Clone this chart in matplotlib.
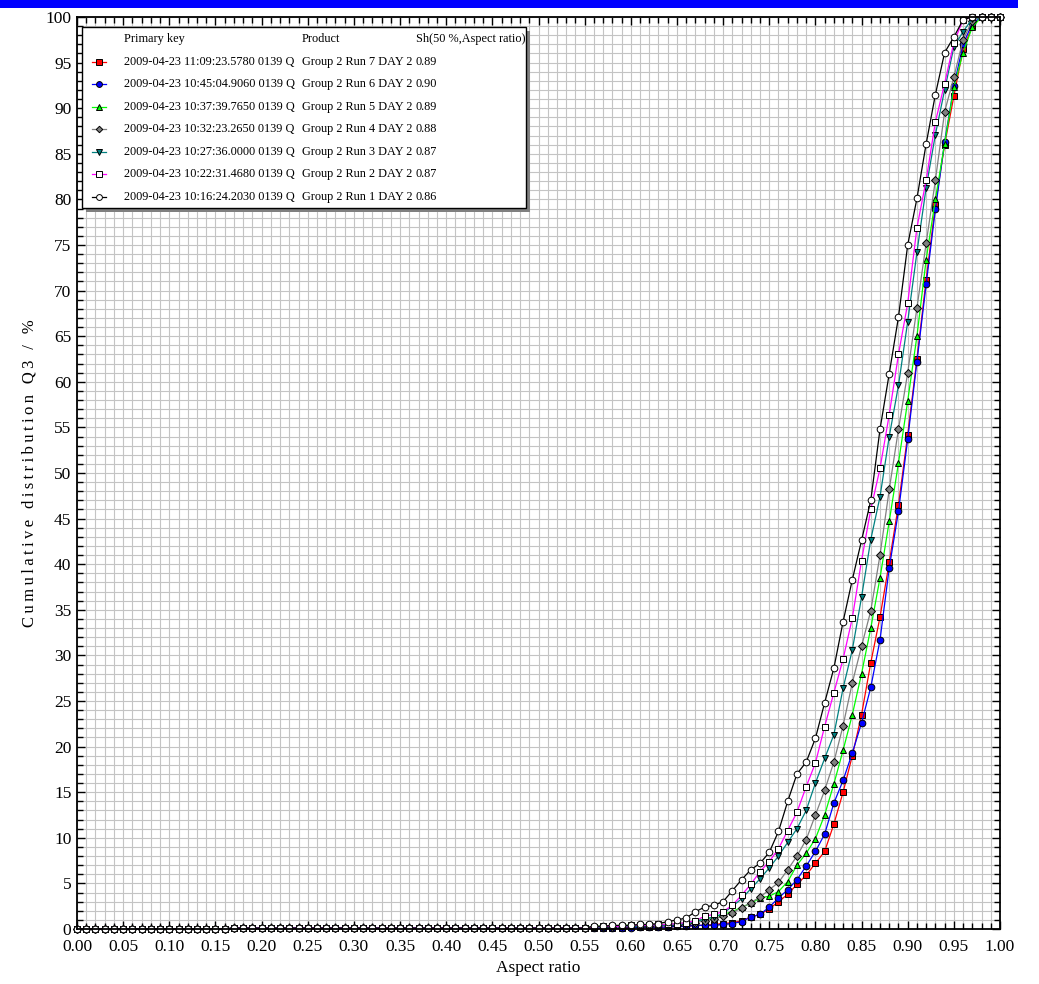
#--------------------------------------------
# Q3 cumulative distribution of aspect ratio, 7 runs
#--------------------------------------------
import numpy as np
import matplotlib
matplotlib.use('Agg')
import matplotlib.pyplot as plt
from matplotlib.patches import Rectangle
from matplotlib.lines import Line2D
from matplotlib.ticker import MultipleLocator, FormatStrFormatter

plt.rcParams['font.family'] = ['Liberation Serif', 'DejaVu Serif']

# ---- data ----------------------------------------------------------
aspect_ratio = np.round(np.arange(101) * 0.01, 2)   # 0.00 ... 1.00

low_part = [0.0] * 17 + [0.1] * 39                   # 0.00 ... 0.55

run7 = low_part + [0.1, 0.1, 0.1, 0.1, 0.2, 0.2, 0.2, 0.2, 0.2, 0.3,
                   0.3, 0.4, 0.4, 0.5, 0.6, 0.7, 0.9, 1.3, 1.6, 2.2,
                   3.0, 3.8, 4.9, 5.9, 7.2, 8.5, 11.5, 15.0, 19.0, 23.5,
                   29.2, 34.2, 40.2, 46.5, 54.2, 62.5, 71.2, 79.4, 86.0, 91.3,
                   96.5, 99.0, 100, 100, 100]
run6 = low_part + [0.1, 0.1, 0.1, 0.1, 0.1, 0.2, 0.2, 0.2, 0.2, 0.3,
                   0.3, 0.4, 0.4, 0.4, 0.5, 0.6, 0.8, 1.3, 1.6, 2.4,
                   3.4, 4.3, 5.4, 6.9, 8.5, 10.4, 13.8, 16.3, 19.3, 22.6,
                   26.5, 31.7, 39.6, 45.8, 53.7, 62.2, 70.7, 78.9, 86.3, 92.4,
                   97.0, 99.3, 100, 100, 100]
run5 = low_part + [0.3, 0.3, 0.3, 0.4, 0.4, 0.4, 0.5, 0.5, 0.5, 0.6,
                   0.7, 0.9, 1.1, 1.3, 1.6, 1.9, 2.4, 2.8, 3.4, 3.6,
                   4.1, 5.2, 7.0, 8.3, 9.9, 12.5, 15.9, 19.6, 23.5, 28.0,
                   33.0, 38.5, 44.7, 51.1, 57.9, 65.0, 73.4, 80.0, 86.1, 92.3,
                   96.1, 98.9, 100, 100, 100]
run4 = low_part + [0.2, 0.2, 0.2, 0.3, 0.3, 0.3, 0.3, 0.4, 0.4, 0.4,
                   0.5, 0.7, 0.9, 1.1, 1.4, 1.8, 2.3, 2.9, 3.5, 4.3,
                   5.1, 6.5, 8.0, 9.8, 12.5, 15.2, 18.3, 22.3, 27.0, 31.0,
                   34.9, 41.0, 48.2, 54.8, 61.0, 68.1, 75.2, 82.1, 89.6, 93.4,
                   97.5, 99.6, 100, 100, 100]
run3 = low_part + [0.2, 0.2, 0.3, 0.3, 0.3, 0.3, 0.4, 0.4, 0.4, 0.5,
                   0.6, 0.8, 1.1, 1.3, 1.7, 2.5, 3.3, 4.4, 5.5, 6.7,
                   8.0, 9.5, 11.0, 13.0, 16.0, 18.7, 21.3, 26.4, 30.6, 36.4,
                   42.7, 47.4, 54.0, 59.6, 66.6, 74.2, 81.3, 87.1, 92.0, 96.7,
                   98.4, 99.8, 100, 100, 100]
run2 = low_part + [0.2, 0.3, 0.3, 0.3, 0.4, 0.4, 0.4, 0.5, 0.5, 0.6,
                   0.7, 0.9, 1.4, 1.6, 1.9, 2.6, 3.7, 4.9, 6.3, 7.4,
                   8.8, 10.8, 12.8, 15.6, 18.2, 22.2, 25.9, 29.6, 34.1, 40.4,
                   46.0, 50.5, 56.4, 63.0, 68.6, 76.9, 82.1, 88.5, 92.7, 97.2,
                   99.7, 100, 100, 100, 100]
run1 = low_part + [0.3, 0.3, 0.4, 0.4, 0.4, 0.5, 0.5, 0.6, 0.8, 1.0,
                   1.2, 1.9, 2.4, 2.6, 3.0, 4.2, 5.4, 6.5, 7.2, 8.4,
                   10.7, 14.0, 17.0, 18.3, 20.9, 24.8, 28.6, 33.7, 38.3, 42.6,
                   47.0, 54.8, 60.9, 67.1, 75.0, 80.1, 86.1, 91.5, 96.1, 97.8,
                   99.7, 100, 100, 100, 100]

primary_keys = ['2009-04-23 11:09:23.5780 0139 Q',
                '2009-04-23 10:45:04.9060 0139 Q',
                '2009-04-23 10:37:39.7650 0139 Q',
                '2009-04-23 10:32:23.2650 0139 Q',
                '2009-04-23 10:27:36.0000 0139 Q',
                '2009-04-23 10:22:31.4680 0139 Q',
                '2009-04-23 10:16:24.2030 0139 Q']
products = ['Group 2 Run 7 DAY 2', 'Group 2 Run 6 DAY 2', 'Group 2 Run 5 DAY 2',
            'Group 2 Run 4 DAY 2', 'Group 2 Run 3 DAY 2', 'Group 2 Run 2 DAY 2',
            'Group 2 Run 1 DAY 2']
sh50 = ['0.89', '0.90', '0.89', '0.88', '0.87', '0.87', '0.86']

series = [run7, run6, run5, run4, run3, run2, run1]

# style per run: (line color, marker, face color)
styles = [('#ff0000', 's', '#ff0000'),
          ('#0000ff', 'o', '#0000ff'),
          ('#00ff00', '^', '#00ff00'),
          ('#808080', 'D', '#808080'),
          ('#008080', 'v', '#008080'),
          ('#ff00ff', 's', '#ffffff'),
          ('#000000', 'o', '#ffffff')]
marker_size = {'s': 4.8, 'o': 4.8, '^': 5.0, 'D': 3.9, 'v': 5.0}

W, H = 1039, 984


def px(x, y):
    """pixel (from top-left) -> figure fraction"""
    return x / W, 1 - y / H


#===========================================================================================================
def main():
    fig = plt.figure(figsize=(W / 100, H / 100), dpi=100)
    ax = fig.add_axes([77 / W, 1 - 929 / H, 923 / W, 912 / H])

    for vals, (col, mk, fc) in zip(series, styles):
        ax.plot(aspect_ratio, vals, color=col, lw=0.9, marker=mk,
                markersize=marker_size[mk], markerfacecolor=fc,
                markeredgecolor='black', markeredgewidth=0.7, clip_on=False)

    ax.set_xlim(0, 1)
    ax.set_ylim(0, 100)

    # 刻度與格線
    ax.xaxis.set_major_locator(MultipleLocator(0.05))
    ax.xaxis.set_minor_locator(MultipleLocator(0.01))
    ax.yaxis.set_major_locator(MultipleLocator(5))
    ax.yaxis.set_minor_locator(MultipleLocator(1))
    ax.xaxis.set_major_formatter(FormatStrFormatter('%.2f'))
    ax.grid(which='both', color='#c4c4c4', lw=0.8)
    ax.set_axisbelow(True)
    ax.tick_params(which='both', direction='in', top=True, right=True,
                   color='black', labelsize=12.5, pad=4)
    ax.tick_params(axis='x', which='major', pad=7.5)
    ax.tick_params(which='major', length=6, width=1.0)
    ax.tick_params(which='minor', length=4.5, width=1.0)
    for sp in ax.spines.values():
        sp.set_linewidth(1.3)

    ax.set_xlabel('Aspect ratio', fontsize=12.5, labelpad=3)
    ylabel = '\u2009'.join('Cumulative distribution Q3 / %')
    ax.set_ylabel(ylabel, fontsize=12, labelpad=6)

    # ---- legend table (drawn by hand) ----
    x0, y0 = px(82, 27)
    x1, y1 = px(526, 208)
    shadow = Rectangle((x0 + 4 / W, y1 - 4 / H), x1 - x0, y0 - y1,
                       transform=fig.transFigure, facecolor='#808080',
                       edgecolor='none', zorder=10)
    box = Rectangle((x0, y1), x1 - x0, y0 - y1, transform=fig.transFigure,
                    facecolor='white', edgecolor='black', lw=1.0, zorder=11)
    fig.add_artist(shadow)
    fig.add_artist(box)

    fs = 8.8
    col_x = [124, 302, 416]
    for cx, head in zip(col_x, ['Primary key', 'Product', 'Sh(50 %,Aspect ratio)']):
        fig.text(*px(cx, 39), head, fontsize=fs, va='center', ha='left', zorder=12)

    row_y = [62, 84, 107, 129, 152, 174, 197]
    for ry, key, prod, sh, (col, mk, fc) in zip(row_y, primary_keys, products, sh50, styles):
        lx0, ly = px(92, ry)
        lx1, _ = px(106, ry)
        fig.add_artist(Line2D([lx0, lx1], [ly, ly], transform=fig.transFigure,
                              color=col, lw=0.9, zorder=12))
        fig.add_artist(Line2D([(lx0 + lx1) / 2], [ly], transform=fig.transFigure,
                              marker=mk, markersize=marker_size[mk] - 0.6, markerfacecolor=fc,
                              markeredgecolor='black', markeredgewidth=0.7, zorder=13))
        for cx, txt in zip(col_x, [key, prod, sh]):
            fig.text(*px(cx, ry), txt, fontsize=fs, va='center', ha='left', zorder=12)

    # 上方藍色色帶
    bx, by = px(0, 8)
    fig.add_artist(Rectangle((bx, by), 1018 / W, 8 / H, transform=fig.transFigure,
                             facecolor='#0000ff', edgecolor='none', zorder=20))

    fig.savefig('out.png', dpi=100)


#===========================================================================================================
if __name__ == '__main__':
    main()
#===========================================================================================================
